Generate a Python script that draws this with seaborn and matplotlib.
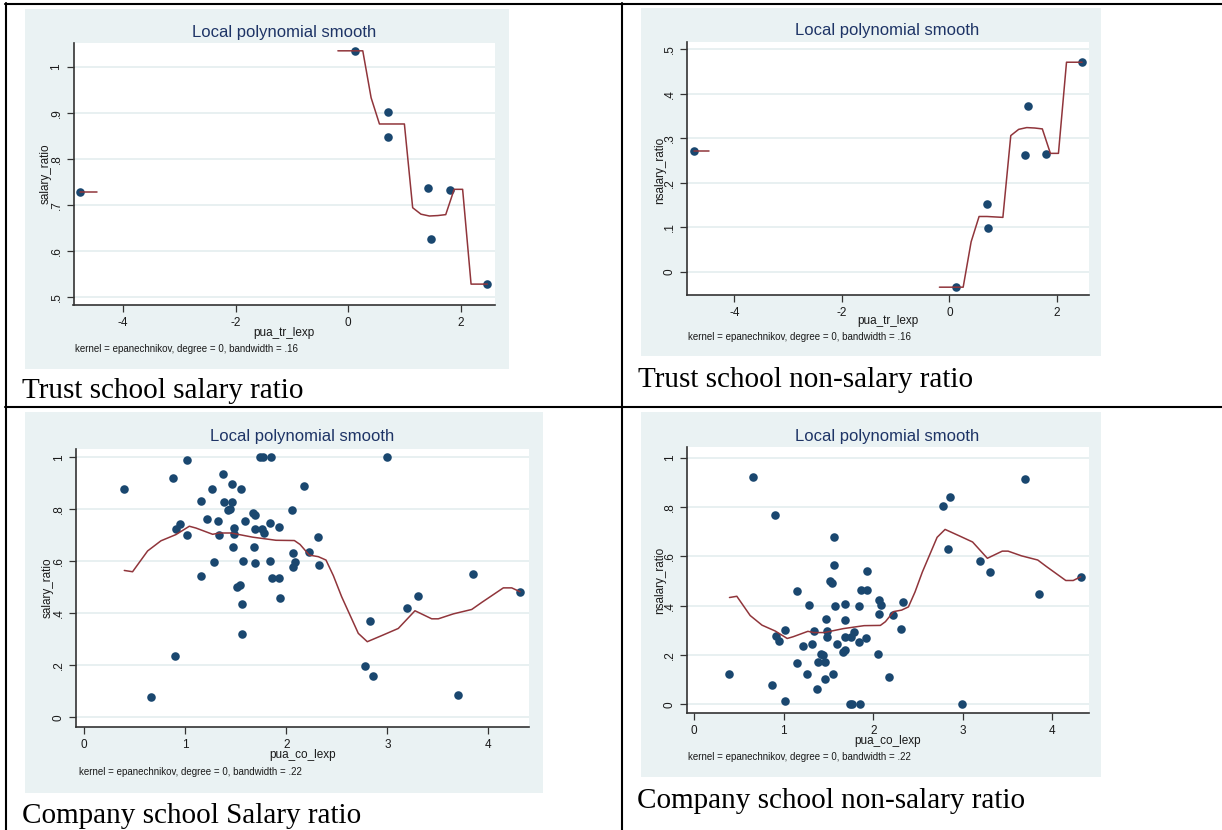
import numpy as np
import pandas as pd
import matplotlib
matplotlib.use("Agg")
import matplotlib.pyplot as plt
import seaborn as sns
from matplotlib.patches import Rectangle
from matplotlib.lines import Line2D

# ---------------- data ----------------
trust_x = [-4.76, 0.12, 0.70, 0.71, 1.41, 1.46, 1.80, 2.47]
trust_salary = [0.728, 1.035, 0.848, 0.903, 0.737, 0.627, 0.733, 0.528]
trust_nsalary = [0.271, -0.035, 0.152, 0.097, 0.263, 0.373, 0.265, 0.471]

trust_grid = [-4.76, -4.61, -4.47,
              -0.185, -0.037, 0.11, 0.257, 0.405, 0.553, 0.70, 0.848, 0.996,
              1.143, 1.29, 1.44, 1.59, 1.73, 1.88, 2.03, 2.18, 2.33, 2.47]
trust_segment = [0, 0, 0] + [1] * 19
trust_salary_smooth = [0.728, 0.728, 0.728,
                       1.035, 1.035, 1.035, 1.035, 0.933, 0.876, 0.876, 0.876, 0.876,
                       0.694, 0.680, 0.676, 0.677, 0.679, 0.734, 0.734, 0.528, 0.528, 0.528]
trust_nsalary_smooth = [0.271, 0.271, 0.271,
                        -0.035, -0.035, -0.035, -0.035, 0.067, 0.124, 0.124, 0.123, 0.122,
                        0.306, 0.320, 0.324, 0.323, 0.321, 0.266, 0.266, 0.471, 0.471, 0.471]

co_x = [0.393, 0.664, 0.875, 0.901, 0.911, 0.944, 1.014, 1.014, 1.152, 1.155,
        1.215, 1.264, 1.287, 1.321, 1.334, 1.370, 1.380, 1.418, 1.440, 1.462,
        1.466, 1.472, 1.485, 1.485, 1.515, 1.538, 1.548, 1.558, 1.564, 1.571,
        1.594, 1.667, 1.683, 1.687, 1.687, 1.690, 1.743, 1.756, 1.766, 1.782,
        1.842, 1.842, 1.852, 1.861, 1.925, 1.931, 1.934, 2.056, 2.063, 2.066,
        2.083, 2.175, 2.225, 2.314, 2.327, 2.779, 2.829, 2.861, 2.994, 3.195,
        3.307, 3.697, 3.845, 4.317]
co_salary = [0.878, 0.077, 0.922, 0.237, 0.724, 0.742, 0.988, 0.700, 0.542, 0.832,
             0.764, 0.878, 0.597, 0.754, 0.703, 0.937, 0.828, 0.797, 0.800, 0.896,
             0.828, 0.656, 0.727, 0.704, 0.501, 0.508, 0.877, 0.322, 0.435, 0.602,
             0.756, 0.787, 0.657, 0.725, 0.595, 0.779, 1.000, 0.725, 1.000, 0.708,
             0.746, 0.600, 1.000, 0.536, 0.733, 0.536, 0.460, 0.797, 0.577, 0.632,
             0.599, 0.891, 0.637, 0.695, 0.587, 0.196, 0.370, 0.161, 1.000, 0.420,
             0.465, 0.086, 0.551, 0.483]
co_nsalary = [0.122, 0.923, 0.078, 0.766, 0.276, 0.258, 0.012, 0.300, 0.458, 0.168,
              0.236, 0.122, 0.403, 0.246, 0.297, 0.063, 0.172, 0.203, 0.200, 0.104,
              0.172, 0.344, 0.273, 0.296, 0.499, 0.492, 0.123, 0.678, 0.565, 0.398,
              0.244, 0.213, 0.343, 0.275, 0.405, 0.221, 0.000, 0.275, 0.000, 0.292,
              0.254, 0.400, 0.000, 0.464, 0.267, 0.464, 0.540, 0.203, 0.423, 0.368,
              0.401, 0.109, 0.363, 0.305, 0.413, 0.804, 0.630, 0.839, 0.000, 0.580,
              0.535, 0.914, 0.449, 0.517]

co_grid = [0.396, 0.478, 0.627, 0.759, 0.908, 1.04, 1.106, 1.271, 1.337, 1.453,
           1.667, 1.898, 2.08, 2.136, 2.228, 2.317, 2.393, 2.466, 2.548, 2.713,
           2.802, 2.96, 3.109, 3.274, 3.44, 3.505, 3.654, 3.836, 3.935, 4.149,
           4.232, 4.315]
co_segment = [0] * 32
co_salary_smooth = [0.565, 0.560, 0.640, 0.679, 0.703, 0.735, 0.728, 0.704, 0.709, 0.709,
                    0.693, 0.681, 0.680, 0.665, 0.624, 0.618, 0.605, 0.545, 0.464, 0.323,
                    0.291, 0.317, 0.342, 0.410, 0.379, 0.379, 0.398, 0.415, 0.442, 0.498,
                    0.498, 0.483]
co_nsalary_smooth = [0.433, 0.438, 0.360, 0.321, 0.297, 0.267, 0.274, 0.296, 0.291, 0.291,
                     0.307, 0.319, 0.320, 0.335, 0.376, 0.382, 0.395, 0.455, 0.536, 0.677,
                     0.709, 0.683, 0.658, 0.592, 0.621, 0.621, 0.602, 0.585, 0.558, 0.502,
                     0.502, 0.517]

trust_xticks = [-4, -2, 0, 2]
trust_xticklabels = ["-4", "-2", "0", "2"]
co_xticks = [0, 1, 2, 3, 4]
co_xticklabels = ["0", "1", "2", "3", "4"]
sal_trust_yticks = [0.5, 0.6, 0.7, 0.8, 0.9, 1.0]
sal_trust_yticklabels = [".5", ".6", ".7", ".8", ".9", "1"]
nsal_trust_yticks = [0, 0.1, 0.2, 0.3, 0.4, 0.5]
nsal_trust_yticklabels = ["0", ".1", ".2", ".3", ".4", ".5"]
co_yticks = [0, 0.2, 0.4, 0.6, 0.8, 1.0]
co_yticklabels = ["0", ".2", ".4", ".6", ".8", "1"]

title_text = "Local polynomial smooth"
captions = ["Trust school salary ratio", "Trust school non-salary ratio",
            "Company school Salary ratio", "Company school non-salary ratio"]
notes = ["kernel = epanechnikov, degree = 0, bandwidth = .16",
         "kernel = epanechnikov, degree = 0, bandwidth = .16",
         "kernel = epanechnikov, degree = 0, bandwidth = .22",
         "kernel = epanechnikov, degree = 0, bandwidth = .22"]

# ---------------- style ----------------
sns.set_theme(style="white")
plt.rcParams["font.family"] = ["Liberation Sans", "DejaVu Sans"]

W, H = 1222, 830
BG = "#eaf2f3"
NAVY = "#1a476f"
MAROON = "#90353b"
TITLE = "#1e3466"
GRID = "#e4edef"
LBL = 8.5

fig = plt.figure(figsize=(W / 100, H / 100), dpi=100)
fig.patch.set_facecolor("white")

panels = [
    dict(bg=(25, 9, 509, 369), ax=(73.5, 43, 495, 305),
         xlim=(-4.88, 2.605), ylim=(0.4826, 1.052),
         xt=trust_xticks, xtl=trust_xticklabels, yt=sal_trust_yticks, ytl=sal_trust_yticklabels,
         xlabel="pua_tr_lexp", ylabel="salary_ratio",
         title_c=(284, 32), xlabel_c=(284, 333), ylabel_c=(45.5, 174), note_xy=(75, 349),
         cap_xy=(22, 398), px=trust_x, py=trust_salary,
         lx=trust_grid, ly=trust_salary_smooth, seg=trust_segment),
    dict(bg=(641, 8, 1101, 356), ax=(686.8, 42, 1088.7, 295),
         xlim=(-4.886, 2.593), ylim=(-0.0526, 0.5165),
         xt=trust_xticks, xtl=trust_xticklabels, yt=nsal_trust_yticks, ytl=nsal_trust_yticklabels,
         xlabel="pua_tr_lexp", ylabel="nsalary_ratio",
         title_c=(887.6, 31), xlabel_c=(887.6, 321), ylabel_c=(660, 170), note_xy=(688, 337),
         cap_xy=(638, 387), px=trust_x, py=trust_nsalary,
         lx=trust_grid, ly=trust_nsalary_smooth, seg=trust_segment),
    dict(bg=(25, 412, 543, 793), ax=(76, 449, 529, 727),
         xlim=(-0.082, 4.403), ylim=(-0.037, 1.032),
         xt=co_xticks, xtl=co_xticklabels, yt=co_yticks, ytl=co_yticklabels,
         xlabel="pua_co_lexp", ylabel="salary_ratio",
         title_c=(302.5, 437), xlabel_c=(302.5, 755), ylabel_c=(47.5, 588), note_xy=(79, 772),
         cap_xy=(22, 823), px=co_x, py=co_salary,
         lx=co_grid, ly=co_salary_smooth, seg=co_segment),
    dict(bg=(641, 412, 1101, 777), ax=(687, 447, 1089, 713),
         xlim=(-0.078, 4.408), ylim=(-0.035, 1.043),
         xt=co_xticks, xtl=co_xticklabels, yt=co_yticks, ytl=co_yticklabels,
         xlabel="pua_co_lexp", ylabel="nsalary_ratio",
         title_c=(887.6, 436), xlabel_c=(887.6, 741), ylabel_c=(660, 580), note_xy=(688, 757),
         cap_xy=(637, 808), px=co_x, py=co_nsalary,
         lx=co_grid, ly=co_nsalary_smooth, seg=co_segment),
]

for i, p in enumerate(panels):
    x0, y0, x1, y1 = p["bg"]
    fig.add_artist(Rectangle((x0 / W, 1 - y1 / H), (x1 - x0) / W, (y1 - y0) / H,
                             transform=fig.transFigure, facecolor=BG, edgecolor="none", zorder=-5))
    ax0, ay0, ax1, ay1 = p["ax"]
    aw, ah = ax1 - ax0, ay1 - ay0
    ax = fig.add_axes([ax0 / W, 1 - ay1 / H, aw / W, ah / H])
    ax.set_facecolor("white")

    sns.scatterplot(x=p["px"], y=p["py"], ax=ax, color=NAVY, s=38, linewidth=0, zorder=3)
    df_line = pd.DataFrame({"x": p["lx"], "y": p["ly"], "seg": p["seg"]})
    sns.lineplot(data=df_line, x="x", y="y", units="seg", estimator=None, sort=False,
                 color=MAROON, linewidth=1.1, ax=ax, zorder=4, legend=False)

    ax.set_xlim(*p["xlim"])
    ax.set_ylim(*p["ylim"])
    ax.set_xticks(p["xt"])
    ax.set_xticklabels(p["xtl"])
    ax.set_yticks(p["yt"])
    ax.set_yticklabels(p["ytl"])
    ax.tick_params(axis="both", which="major", bottom=True, left=True, direction="out",
                   length=5, width=0.9, color="#333333", labelsize=LBL,
                   labelcolor="#1a1a1a", pad=3.5)
    ax.tick_params(axis="y", labelrotation=90, pad=3)
    for lab in ax.get_yticklabels():
        lab.set_va("center")
    ax.yaxis.grid(True, color=GRID, linewidth=1.2)
    ax.xaxis.grid(False)
    ax.set_axisbelow(True)
    for side in ["top", "right"]:
        ax.spines[side].set_visible(False)
    for side in ["left", "bottom"]:
        ax.spines[side].set_color("#333333")
        ax.spines[side].set_linewidth(1.2)

    ax.set_xlabel(p["xlabel"], fontsize=LBL, color="#1a1a1a", ha="center", va="center")
    ax.xaxis.set_label_coords((p["xlabel_c"][0] - ax0) / aw, (ay1 - p["xlabel_c"][1]) / ah)
    ax.set_ylabel(p["ylabel"], fontsize=LBL, color="#1a1a1a", rotation=90,
                  ha="center", va="center")
    ax.yaxis.set_label_coords((p["ylabel_c"][0] - ax0) / aw, (ay1 - p["ylabel_c"][1]) / ah)

    ax.text((p["title_c"][0] - ax0) / aw, (ay1 - p["title_c"][1]) / ah, title_text,
            transform=ax.transAxes, ha="center", va="center", fontsize=12, color=TITLE)
    fig.text(p["note_xy"][0] / W, 1 - p["note_xy"][1] / H, notes[i], fontsize=7,
             color="#1a1a1a", ha="left", va="center")
    fig.text(p["cap_xy"][0] / W, 1 - p["cap_xy"][1] / H, captions[i], fontsize=21,
             family=["Liberation Serif", "DejaVu Serif"], color="black",
             ha="left", va="baseline")

# table borders
def hline(y, xa, xb):
    fig.add_artist(Line2D([xa / W, xb / W], [1 - y / H, 1 - y / H], transform=fig.transFigure,
                          color="black", linewidth=1.5, zorder=10))

def vline(x, ya, yb):
    fig.add_artist(Line2D([x / W, x / W], [1 - ya / H, 1 - yb / H], transform=fig.transFigure,
                          color="black", linewidth=1.5, zorder=10))

hline(4, 5, 1222)
hline(407, 5, 1222)
vline(6, 3, 830)
vline(622, 3, 830)

fig.savefig("out.png", dpi=100, facecolor="white")
